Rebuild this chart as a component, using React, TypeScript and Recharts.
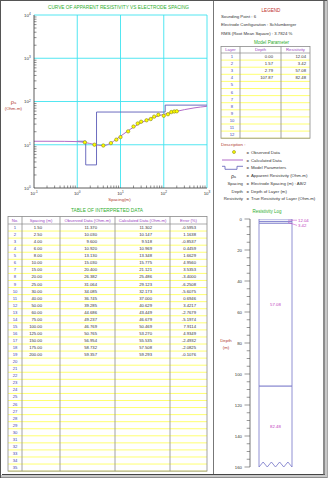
import React from 'react';
import { ComposedChart, Line, Scatter, XAxis, YAxis, ReferenceLine, BarChart, Bar, LabelList } from 'recharts';

const FONT = '"Liberation Sans", Arial, sans-serif';

// ---------- interpreted data ----------
const spacing = [1.5, 2.5, 4, 6, 8, 10, 15, 20, 25, 30, 40, 50, 60, 75, 100, 125, 150, 175, 200];
const observed = [11.37, 10.03, 9.6, 10.92, 13.13, 15.03, 20.4, 26.382, 31.064, 34.085, 36.745, 39.285, 44.686, 49.237, 46.769, 50.765, 56.954, 58.732, 59.357];
const calculated = [11.302, 10.147, 9.518, 10.969, 13.348, 15.775, 21.121, 25.486, 29.123, 32.173, 37.0, 40.629, 43.449, 46.679, 50.469, 53.27, 55.535, 57.508, 59.293];
const errorPct = [-0.5953, 1.1638, -0.8537, 0.4459, 1.6629, 4.956, 3.5353, -3.4, -6.2508, -5.6075, 0.6946, 3.4217, -2.7679, -5.1974, 7.9114, 4.9349, -2.4932, -2.0825, -0.1076];

// calculated curve drawn on the sounding chart
const curveSpacing = [0.1, 0.2, 0.5, 1, 1.5, 2.5, 4, 6, 8, 10, 15, 20, 25, 30, 40, 50, 60, 75, 100, 125, 150, 175, 200, 300, 500, 1000];
const curveRho = [12.04, 12.03, 11.98, 11.82, 11.302, 10.147, 9.518, 10.969, 13.348, 15.775, 21.121, 25.486, 29.123, 32.173, 37.0, 40.629, 43.449, 46.679, 50.469, 53.27, 55.535, 57.508, 59.293, 64.8, 71.0, 77.5];

// ---------- model ----------
const modelDepth = [0, 1.57, 2.79, 107.87];
const modelRes = [12.04, 3.42, 57.08, 82.48];
const modelStartSpacing = 1;
const modelRowCount = 12;
const logMaxDepth = 160;

// ---------- legend info ----------
const soundingPoint = '6';
const configuration = 'Schlumberger';
const rmsText = '3.7824 %';

// ---------- axes ----------
const xDomain = [0.1, 1000];
const yDomain = [1, 10000];
const xDecades = [0.1, 1, 10, 100, 1000];
const yDecades = [1, 10, 100, 1000, 10000];
const minorSteps = [2, 3, 4, 5, 6, 7, 8, 9];
const depthTicks = [0, 5, 10, 15, 20, 25, 30, 35, 40, 45, 50, 55, 60, 65, 70, 75, 80, 85, 90, 95, 100, 105, 110, 115, 120, 125, 130, 135, 140, 145, 150, 155, 160];

const buildLogTicks = (decs: number[]) => {
  const out: number[] = [];
  decs.forEach((d, i) => {
    out.push(d);
    if (i < decs.length - 1) minorSteps.forEach((m) => out.push(+(d * m).toPrecision(6)));
  });
  return out;
};
const xTicks = buildLogTicks(xDecades);
const yTicks = buildLogTicks(yDecades);

const GRID = '#3fe3ef';
const CALC = '#b36cc9';
const MODEL = '#5c5cb8';
const BOX = '#7474c8';
const MAGENTA = '#c03cc0';
const GREEN = '#2fae2f';
const BROWN = '#b0392e';
const PURPLE = '#9a3fc2';
const BLUE = '#4545aa';
const TXT = '#333';
const YEL = '#ffff4d';
const TBL = '#8a8a8a';

const isDecade = (v: number) => Math.abs(Math.log10(v) - Math.round(Math.log10(v))) < 1e-6;

const XTick = (p: any) => {
  const { x, y, payload } = p;
  const v = payload.value;
  if (!isDecade(v)) return <line x1={x} x2={x} y1={y} y2={y - 2.5} stroke="#444" strokeWidth={0.6} />;
  const e = Math.round(Math.log10(v));
  return (
    <text x={x} y={y + 6.5} textAnchor="middle" fontSize={4.4} fill={TXT} fontFamily={FONT}>
      10<tspan dy={-1.8} fontSize={3.2}>{e}</tspan>
    </text>
  );
};

const YTick = (p: any) => {
  const { x, y, payload } = p;
  const v = payload.value;
  if (!isDecade(v)) return <line x1={x} x2={x + 2.5} y1={y} y2={y} stroke="#444" strokeWidth={0.6} />;
  const e = Math.round(Math.log10(v));
  return (
    <text x={x - 3.3} y={y + 1.8} textAnchor="end" fontSize={4.4} fill={TXT} fontFamily={FONT}>
      10<tspan dy={-1.8} fontSize={3.2}>{e}</tspan>
    </text>
  );
};

const DepthTick = (p: any) => {
  const { x, y, payload } = p;
  const v = payload.value;
  const major = v % 20 === 0;
  return (
    <g>
      <line x1={x} x2={x - (major ? 5.5 : 3.3)} y1={y} y2={y} stroke="#555" strokeWidth={0.6} />
      {major && (
        <text x={x - 8} y={y} textAnchor="end" dominantBaseline="central" fontSize={4.3} fill={TXT} fontFamily={FONT}>
          {v}
        </text>
      )}
    </g>
  );
};

const Dot = (p: any) => {
  const { cx, cy } = p;
  return <circle cx={cx} cy={cy} r={1.7} fill="#ffff00" stroke="#8a8a10" strokeWidth={0.6} />;
};

const ZigBar = (p: any) => {
  const { x, y, width, height } = p;
  const top = Math.min(y, y + height);
  const bot = Math.max(y, y + height);
  const n = 4;
  const seg = width / n;
  const amp = 5;
  let d = `M${x},${bot} L${x},${top} L${x + width},${top} L${x + width},${bot}`;
  for (let i = n; i > 0; i--) d += ` L${x + (i - 0.5) * seg},${bot - amp} L${x + (i - 1) * seg},${bot}`;
  return <path d={d} fill="#fff" stroke={BOX} strokeWidth={0.8} />;
};

const LayerLabel = (p: any) => {
  const vb = p.viewBox && p.viewBox.width !== undefined ? p.viewBox : p;
  const { x, y, width, height } = vb;
  const layer = p.layer;
  const top = Math.min(y, y + height);
  const bot = Math.max(y, y + height);
  const mid = (top + bot) / 2;
  const txt = Number(p.value).toFixed(2);
  if (bot - top < 8) {
    const ty = mid + layer * 3;
    return (
      <g>
        <line x1={x + width - 4} y1={mid} x2={x + width + 5} y2={ty} stroke={MAGENTA} strokeWidth={0.5} />
        <text x={x + width + 6} y={ty} dominantBaseline="central" fontSize={4.3} fill={MAGENTA} fontFamily={FONT}>
          {txt}
        </text>
      </g>
    );
  }
  return (
    <text x={x + width / 2} y={mid} textAnchor="middle" dominantBaseline="central" fontSize={4.3} fill={MAGENTA} fontFamily={FONT}>
      {txt}
    </text>
  );
};

export default function App() {
  const obsData = spacing.map((s, i) => ({ x: s, y: observed[i] }));
  const curveData = curveSpacing.map((s, i) => ({ x: s, y: curveRho[i] }));
  const modelData = [
    ...modelDepth.map((d, i) => ({ x: Math.max(d, modelStartSpacing), y: modelRes[i] })),
    { x: xDomain[1], y: modelRes[modelRes.length - 1] },
  ];
  const logRow: any = { name: 'log' };
  modelDepth.forEach((d, i) => {
    const next = i < modelDepth.length - 1 ? modelDepth[i + 1] : logMaxDepth;
    logRow['t' + i] = +(next - d).toFixed(2);
    logRow['r' + i] = modelRes[i];
  });

  // interpreted-data table geometry
  const tCols = [8, 22, 60, 115, 170, 207];
  const tHeadTop = 216.5;
  const tHeadBot = 224;
  const tRowH = 7.06;
  const tRows = 35;
  const tHeads = ['No.', 'Spacing (m)', 'Observed Data (Ohm-m)', 'Calculated Data (Ohm-m)', 'Error (%)'];
  const tRight = [42, 97, 152, 196];

  // model table geometry
  const mCols = [221, 240, 281, 310];
  const mHeadTop = 46.5;
  const mHeadBot = 53;
  const mRowH = 7.1;
  const mHeads = ['Layer', 'Depth', 'Resistivity'];

  const descRows: [string, string][] = [
    ['', 'Observed Data'],
    ['', 'Calculated Data'],
    ['', 'Model Parameters'],
    ['', 'Apparent Resistivity (Ohm-m)'],
    ['Spacing', 'Electrode Spacing (m) : AB/2'],
    ['Depth', 'Depth of Layer (m)'],
    ['Resistivity', 'True Resistivity of Layer (Ohm-m)'],
  ];
  const descY = [152, 160, 167.8, 175.5, 183.2, 191, 198.8];

  return (
    <div style={{ position: 'absolute', left: 0, top: 0, width: 330, height: 480, background: '#fff', fontFamily: FONT }}>
      <svg width={330} height={480} style={{ position: 'absolute', left: 0, top: 0 }} fontFamily={FONT}>
        {/* frames */}
        <rect x={0.5} y={0.5} width={326.5} height={477} fill="none" stroke="#555" strokeWidth={1} />
        <line x1={213.5} y1={1} x2={213.5} y2={475} stroke="#777" strokeWidth={1} />
        <line x1={2} y1={474.5} x2={325} y2={474.5} stroke="#444" strokeWidth={1} />
        <line x1={324} y1={1} x2={324} y2={475} stroke="#666" strokeWidth={1.5} />
        <rect x={325} y={1} width={2} height={476} fill="#c8c8c8" />
        <rect x={1} y={475} width={326} height={2.5} fill="#c8c8c8" />

        {/* main chart texts */}
        <text x={118.5} y={7.3} textAnchor="middle" dominantBaseline="central" fontSize={4.6} fill={GREEN} textLength={141} lengthAdjust="spacingAndGlyphs">
          CURVE OF APPARENT RESISTIVITY VS ELECTRODE SPACING
        </text>
        <text x={13.5} y={101.5} textAnchor="middle" dominantBaseline="central" fontSize={6} fill={BROWN}>
          ρ<tspan fontSize={3.6} dy={1.2}>a</tspan>
        </text>
        <text x={13.3} y={108.8} textAnchor="middle" dominantBaseline="central" fontSize={4.3} fill={BROWN}>
          (Ohm-m)
        </text>
        <text x={119.5} y={199.5} textAnchor="middle" dominantBaseline="central" fontSize={4.4} fill={BROWN}>
          Spacing(m)
        </text>

        {/* interpreted data table */}
        <text x={107} y={210} textAnchor="middle" dominantBaseline="central" fontSize={4.8} fill={GREEN} textLength={72} lengthAdjust="spacingAndGlyphs">
          TABLE OF INTERPRETED DATA
        </text>
        {Array.from({ length: tRows }).map((_, r) => {
          const yb = tHeadBot + (r + 1) * tRowH;
          return <line key={'yl' + r} x1={tCols[0]} x2={tCols[tCols.length - 1]} y1={yb} y2={yb} stroke={YEL} strokeWidth={0.8} />;
        })}
        <line x1={tCols[0]} x2={tCols[tCols.length - 1]} y1={tHeadBot} y2={tHeadBot} stroke={TBL} strokeWidth={0.7} />
        <rect x={tCols[0]} y={tHeadTop} width={tCols[tCols.length - 1] - tCols[0]} height={tHeadBot - tHeadTop + tRows * tRowH} fill="none" stroke={TBL} strokeWidth={0.8} />
        {tCols.slice(1, -1).map((c) => (
          <line key={'tc' + c} x1={c} x2={c} y1={tHeadTop} y2={tHeadBot + tRows * tRowH} stroke={TBL} strokeWidth={0.8} />
        ))}
        {tHeads.map((h, i) => (
          <text key={h} x={(tCols[i] + tCols[i + 1]) / 2} y={(tHeadTop + tHeadBot) / 2} textAnchor="middle" dominantBaseline="central" fontSize={4.2} fill={PURPLE}>
            {h}
          </text>
        ))}
        {Array.from({ length: tRows }).map((_, r) => {
          const cy = tHeadBot + (r + 0.5) * tRowH;
          return (
            <g key={'tr' + r}>
              <text x={(tCols[0] + tCols[1]) / 2} y={cy} textAnchor="middle" dominantBaseline="central" fontSize={4.2} fill={BLUE}>
                {r + 1}
              </text>
              {r < spacing.length && (
                <>
                  <text x={tRight[0]} y={cy} textAnchor="end" dominantBaseline="central" fontSize={4.2} fill={TXT}>{spacing[r].toFixed(2)}</text>
                  <text x={tRight[1]} y={cy} textAnchor="end" dominantBaseline="central" fontSize={4.2} fill={TXT}>{observed[r].toFixed(3)}</text>
                  <text x={tRight[2]} y={cy} textAnchor="end" dominantBaseline="central" fontSize={4.2} fill={TXT}>{calculated[r].toFixed(3)}</text>
                  <text x={tRight[3]} y={cy} textAnchor="end" dominantBaseline="central" fontSize={4.2} fill={TXT}>{errorPct[r].toFixed(4)}</text>
                </>
              )}
            </g>
          );
        })}

        {/* legend */}
        <text x={271} y={10} textAnchor="middle" dominantBaseline="central" fontSize={4.6} fill="#c0302a">LEGEND</text>
        <text x={221} y={16.8} dominantBaseline="central" fontSize={4.3} fill={TXT}>{'Sounding Point : ' + soundingPoint}</text>
        <text x={221} y={24.8} dominantBaseline="central" fontSize={4.3} fill={TXT}>{'Electrode Configuration : ' + configuration}</text>
        <text x={221} y={33} dominantBaseline="central" fontSize={4.3} fill={TXT}>{'RMS (Root Mean Square) : ' + rmsText}</text>
        <text x={271.5} y={42} textAnchor="middle" dominantBaseline="central" fontSize={4.6} fill={GREEN}>Model Parameter</text>

        {/* model table */}
        {Array.from({ length: modelRowCount }).map((_, r) => {
          const yb = mHeadBot + (r + 1) * mRowH;
          return <line key={'ml' + r} x1={mCols[0]} x2={mCols[3]} y1={yb} y2={yb} stroke={YEL} strokeWidth={0.8} />;
        })}
        <line x1={mCols[0]} x2={mCols[3]} y1={mHeadBot} y2={mHeadBot} stroke={TBL} strokeWidth={0.7} />
        <rect x={mCols[0]} y={mHeadTop} width={mCols[3] - mCols[0]} height={mHeadBot - mHeadTop + modelRowCount * mRowH} fill="none" stroke={TBL} strokeWidth={0.8} />
        {mCols.slice(1, -1).map((c) => (
          <line key={'mc' + c} x1={c} x2={c} y1={mHeadTop} y2={mHeadBot + modelRowCount * mRowH} stroke={TBL} strokeWidth={0.8} />
        ))}
        {mHeads.map((h, i) => (
          <text key={h} x={(mCols[i] + mCols[i + 1]) / 2} y={(mHeadTop + mHeadBot) / 2} textAnchor="middle" dominantBaseline="central" fontSize={4.2} fill={PURPLE}>
            {h}
          </text>
        ))}
        {Array.from({ length: modelRowCount }).map((_, r) => {
          const cy = mHeadBot + (r + 0.5) * mRowH;
          return (
            <g key={'mr' + r}>
              <text x={232} y={cy} textAnchor="middle" dominantBaseline="central" fontSize={4.2} fill={BLUE}>{r + 1}</text>
              {r < modelDepth.length && (
                <>
                  <text x={273} y={cy} textAnchor="end" dominantBaseline="central" fontSize={4.2} fill={TXT}>{modelDepth[r].toFixed(2)}</text>
                  <text x={306} y={cy} textAnchor="end" dominantBaseline="central" fontSize={4.2} fill={TXT}>{modelRes[r].toFixed(2)}</text>
                </>
              )}
            </g>
          );
        })}

        {/* description */}
        <text x={221} y={144.3} dominantBaseline="central" fontSize={4.4} fill={BROWN}>Description :</text>
        <circle cx={234} cy={descY[0]} r={1.5} fill="#ffff00" stroke="#8a8a10" strokeWidth={0.6} />
        <line x1={222} x2={243} y1={descY[1]} y2={descY[1]} stroke={CALC} strokeWidth={1} />
        <path d={`M222,${descY[2] - 1.5} H225 V${descY[2] + 1.5} H237 V${descY[2] - 1.5} H243`} fill="none" stroke={MODEL} strokeWidth={0.8} />
        <text x={236} y={descY[3]} textAnchor="end" dominantBaseline="central" fontSize={5.5} fill={TXT}>
          ρ<tspan fontSize={3.4} dy={1}>a</tspan>
        </text>
        {descRows.map(([lab, txt], i) => (
          <g key={'d' + i}>
            {lab && (
              <text x={243} y={descY[i]} textAnchor="end" dominantBaseline="central" fontSize={4.3} fill={TXT}>{lab}</text>
            )}
            <text x={246.5} y={descY[i]} dominantBaseline="central" fontSize={4.3} fill={TXT}>=</text>
            <text x={251} y={descY[i]} dominantBaseline="central" fontSize={4.3} fill={TXT}>{txt}</text>
          </g>
        ))}

        {/* resistivity log texts */}
        <text x={267} y={211} textAnchor="middle" dominantBaseline="central" fontSize={4.5} fill={GREEN}>Resistivity  Log</text>
        <text x={226} y={340.7} textAnchor="middle" dominantBaseline="central" fontSize={4.3} fill={BROWN}>Depth</text>
        <text x={226} y={347.7} textAnchor="middle" dominantBaseline="central" fontSize={4.3} fill={BROWN}>(m)</text>
      </svg>

      {/* sounding curve chart */}
      <div style={{ position: 'absolute', left: 0, top: 0 }}>
        <ComposedChart width={214} height={206} margin={{ top: 15, right: 7, bottom: 0, left: 0 }}>
          <XAxis
            dataKey="x"
            type="number"
            scale="log"
            domain={xDomain}
            allowDataOverflow
            ticks={xTicks}
            interval={0}
            height={18}
            tickLine={false}
            tickSize={0}
            tickMargin={0}
            axisLine={{ stroke: '#333', strokeWidth: 0.8 }}
            tick={(p: any) => <XTick {...p} />}
          />
          <YAxis
            dataKey="y"
            type="number"
            scale="log"
            domain={yDomain}
            allowDataOverflow
            ticks={yTicks}
            interval={0}
            width={34}
            tickLine={false}
            tickSize={0}
            tickMargin={0}
            axisLine={{ stroke: '#333', strokeWidth: 0.8 }}
            tick={(p: any) => <YTick {...p} />}
          />
          {xDecades.slice(1).map((v) => (
            <ReferenceLine key={'gx' + v} x={v} stroke={GRID} strokeWidth={0.9} ifOverflow="visible" />
          ))}
          {yDecades.slice(1).map((v) => (
            <ReferenceLine key={'gy' + v} y={v} stroke={GRID} strokeWidth={0.9} ifOverflow="visible" />
          ))}
          <Line data={modelData} dataKey="y" type="stepAfter" stroke={MODEL} strokeWidth={0.9} dot={false} isAnimationActive={false} />
          <Line data={curveData} dataKey="y" type="monotone" stroke={CALC} strokeWidth={1} dot={false} isAnimationActive={false} />
          <Scatter data={obsData} dataKey="y" shape={(p: any) => <Dot {...p} />} isAnimationActive={false} />
        </ComposedChart>
      </div>

      {/* resistivity log */}
      <div style={{ position: 'absolute', left: 215, top: 210 }}>
        <BarChart width={110} height={262} data={[logRow]} margin={{ top: 9, right: 24, bottom: 5, left: 0 }}>
          <XAxis dataKey="name" type="category" hide />
          <YAxis
            type="number"
            domain={[0, logMaxDepth]}
            reversed
            allowDataOverflow
            ticks={depthTicks}
            interval={0}
            width={35}
            tickLine={false}
            tickSize={0}
            tickMargin={0}
            axisLine={{ stroke: '#555', strokeWidth: 0.8 }}
            tick={(p: any) => <DepthTick {...p} />}
          />
          {modelDepth.map((_, i) => (
            <Bar
              key={'b' + i}
              dataKey={'t' + i}
              stackId="L"
              barSize={33}
              fill="#fff"
              stroke={BOX}
              strokeWidth={0.8}
              isAnimationActive={false}
              {...(i === modelDepth.length - 1 ? { shape: (p: any) => <ZigBar {...p} /> } : {})}
            >
              <LabelList dataKey={'r' + i} content={(p: any) => <LayerLabel {...p} layer={i} />} />
            </Bar>
          ))}
        </BarChart>
      </div>
    </div>
  );
}
